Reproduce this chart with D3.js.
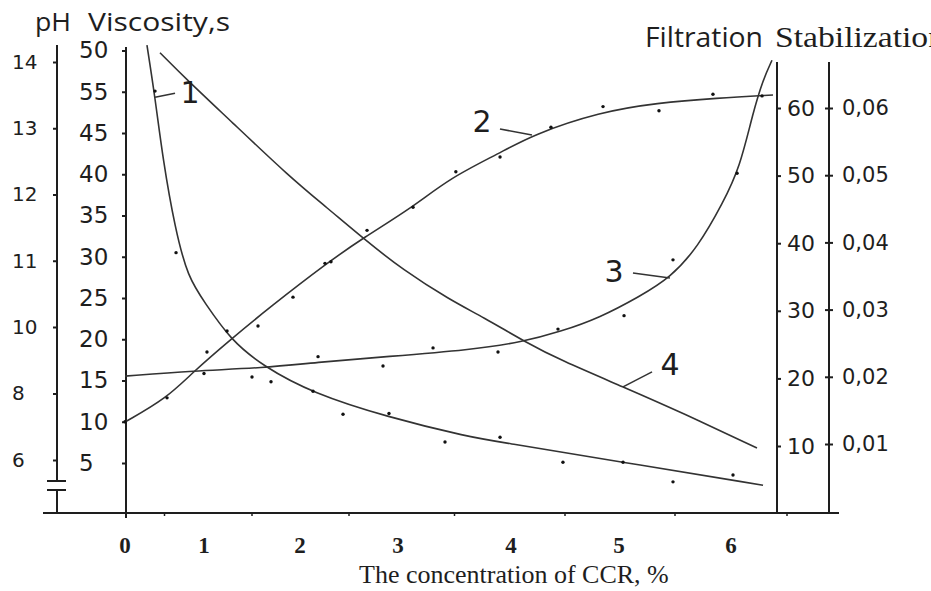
<!DOCTYPE html>
<html><head><meta charset="utf-8">
<script src="https://cdn.jsdelivr.net/npm/d3@7"></script>
<style>
body{margin:0;background:#fff;overflow:hidden}
svg{display:block}
</style>
</head><body>
<svg id="c" width="931" height="591"></svg>
<script>
// ---------------- data ----------------
const xTickValues = [0,1,2,3,4,5,6];
const xTickLabels = ["0","1","2","3","4","5","6"];
const xMinorTicks = [0.5,1.5,2.5,3.5,4.5,5.5,6.5];
const phTickValues = [6,8,10,11,12,13,14];
const phTickLabels = ["6","8","10","11","12","13","14"];
const viscTickValues = [5,10,15,20,25,30,35,40,45,50,55];
const viscTickLabels = ["5","10","15","20","25","30","35","40","45","55","50"];
const filtTickValues = [10,20,30,40,50,60];
const filtTickLabels = ["10","20","30","40","50","60"];
const stabTickValues = [0.01,0.02,0.03,0.04,0.05,0.06];
const stabTickLabels = ["0,01","0,02","0,03","0,04","0,05","0,06"];
const curveLabels = ["1","2","3","4"];

// curve 1 – filtration
const curve1Line = [[0.278,69.3],[0.38,61.6],[0.481,52.3],[0.633,42.2],[0.797,34.9],[1.01,31.2],[1.271,25.8],[1.615,21.8],[2.133,17.8],[2.888,14.3],[3.637,11.3],[3.903,10.6],[5.036,7.6],[6.286,4.2]];
const curve1Points = [[0.38,62.5],[0.646,38.6],[1.5,20.2],[1.698,19.5],[2.133,18.1],[2.439,14.7],[2.908,14.8],[3.416,10.6],[3.903,11.3],[4.481,7.6],[5.036,7.6],[5.482,4.7],[6.018,5.7]];
// curve 2 – viscosity
const curve2Line = [[0,9.97],[0.532,12.88],[0.861,16.03],[1.271,19.91],[1.6875,23.9],[2.276,29.24],[2.643,32.27],[3.133,36.03],[3.46,39.55],[3.903,42.58],[4.194,44.76],[4.824,47.55],[5.339,48.64],[5.875,49.24],[6.375,49.6]];
const curve2Points = [[0,10.0],[0.532,12.9],[1.031,18.45],[1.24,21.0],[1.5625,21.6],[1.927,25.1],[2.255,29.2],[2.316,29.4],[2.684,33.2],[3.133,36.0],[3.512,40.3],[3.903,42.1],[4.37,45.7],[4.852,48.2],[5.357,47.7],[5.839,49.7],[6.277,49.5]];
// curve 3 – stabilization
const curve3Line = [[0,0.0201],[0.861,0.0209],[1.615,0.0213],[2.204,0.0222],[2.888,0.0230],[3.637,0.0240],[4.111,0.0252],[4.454,0.0267],[4.824,0.0288],[5.188,0.0320],[5.455,0.0347],[5.705,0.0393],[5.929,0.0459],[6.08,0.0512],[6.196,0.0593],[6.286,0.0642],[6.366,0.0671]];
const curve3Points = [[1.0,0.0205],[2.184,0.0230],[2.847,0.0216],[3.31,0.0243],[3.885,0.0237],[4.435,0.0271],[5.045,0.0291],[5.482,0.0374],[6.054,0.0503]];
// curve 4 – pH
const curve4Line = [[0.443,14.14],[0.785,13.73],[1.271,13.12],[1.896,12.26],[2.276,11.80],[2.643,11.34],[3.044,10.86],[3.46,10.41],[3.752,10.15],[4.148,9.52],[4.454,9.01],[5.036,8.20],[5.571,7.41],[6.232,6.36]];

// ---------------- layout ----------------
const svg = d3.select("#c");
const INK = "#1e1e1e", LINE = "#333";
const SANS = "'DejaVu Sans', sans-serif", SERIF = "'Liberation Serif', 'Times New Roman', serif";
const baseY = 513;

const x = d3.scaleLinear().domain([0,1,2,3,4,5,6,6.5]).range([125,204,300,398,511,619,731,787]);
const yPH = d3.scaleLinear().domain([6,10,14]).range([460,327,62]);
const yVisc = d3.scaleLinear().domain([5,55]).range([463,50.5]);
const yFilt = d3.scaleLinear().domain([0,60]).range([513.6,108]);
const yStab = d3.scaleLinear().domain([0,0.06]).range([511.2,108]);

const axX = {ph:57, visc:126, filt:777, stab:829};

// bottom axis
svg.append("line").attr("x1",43).attr("x2",839).attr("y1",baseY).attr("y2",baseY)
  .attr("stroke",INK).attr("stroke-width",2);
svg.append("g").selectAll("line").data(xMinorTicks).join("line")
  .attr("x1",d=>x(d)).attr("x2",d=>x(d)).attr("y1",baseY).attr("y2",baseY+3)
  .attr("stroke",INK).attr("stroke-width",1.5);
svg.append("g").selectAll("text").data(xTickValues).join("text")
  .attr("x",d=>x(d)).attr("y",553).attr("text-anchor","middle")
  .attr("font-family",SERIF).attr("font-weight","bold").attr("font-size",23).attr("fill",INK)
  .text((d,i)=>xTickLabels[i]);
svg.append("text").attr("x",359).attr("y",583).attr("font-family",SERIF).attr("font-size",26)
  .attr("fill",INK).text("The concentration of CCR, %");

// pH axis with break
svg.append("line").attr("x1",axX.ph).attr("x2",axX.ph).attr("y1",45).attr("y2",481).attr("stroke",INK).attr("stroke-width",2);
svg.append("line").attr("x1",axX.ph).attr("x2",axX.ph).attr("y1",490).attr("y2",baseY).attr("stroke",INK).attr("stroke-width",2);
[481,490].forEach(yy=>svg.append("line").attr("x1",47).attr("x2",66).attr("y1",yy).attr("y2",yy).attr("stroke",INK).attr("stroke-width",2));
const gPH = svg.append("g").attr("transform",`translate(${axX.ph},0)`)
  .call(d3.axisLeft(yPH).tickValues(phTickValues).tickSize(4).tickFormat((d,i)=>phTickLabels[i]));
gPH.select(".domain").remove();
gPH.selectAll("line").attr("stroke",INK).attr("stroke-width",2);
gPH.selectAll("text").attr("x",12-axX.ph).attr("text-anchor","start")
  .attr("font-family",SANS).attr("font-size",20).attr("fill",INK);

// viscosity axis
svg.append("line").attr("x1",axX.visc).attr("x2",axX.visc).attr("y1",47).attr("y2",518).attr("stroke",INK).attr("stroke-width",2);
const gV = svg.append("g").attr("transform",`translate(${axX.visc},0)`)
  .call(d3.axisLeft(yVisc).tickValues(viscTickValues).tickSize(4).tickFormat((d,i)=>viscTickLabels[i]));
gV.select(".domain").remove();
gV.selectAll("line").attr("stroke",INK).attr("stroke-width",2);
gV.selectAll("text").attr("x",79-axX.visc).attr("text-anchor","start")
  .attr("font-family",SANS).attr("font-size",23).attr("fill",INK);

// filtration axis
svg.append("line").attr("x1",axX.filt).attr("x2",axX.filt).attr("y1",62).attr("y2",baseY).attr("stroke",INK).attr("stroke-width",2);
const gF = svg.append("g").attr("transform",`translate(${axX.filt},0)`)
  .call(d3.axisRight(yFilt).tickValues(filtTickValues).tickSize(4).tickFormat((d,i)=>filtTickLabels[i]));
gF.select(".domain").remove();
gF.selectAll("line").attr("stroke",INK).attr("stroke-width",2);
gF.selectAll("text").attr("x",787-axX.filt).attr("text-anchor","start")
  .attr("font-family",SANS).attr("font-size",22).attr("fill",INK);

// stabilization axis
svg.append("line").attr("x1",axX.stab).attr("x2",axX.stab).attr("y1",62).attr("y2",baseY).attr("stroke",INK).attr("stroke-width",2);
const gS = svg.append("g").attr("transform",`translate(${axX.stab},0)`)
  .call(d3.axisRight(yStab).tickValues(stabTickValues).tickSize(4).tickFormat((d,i)=>stabTickLabels[i]));
gS.select(".domain").remove();
gS.selectAll("line").attr("x1",-4).attr("stroke",INK).attr("stroke-width",2);
gS.selectAll("text").attr("x",842-axX.stab).attr("text-anchor","start")
  .attr("font-family",SANS).attr("font-size",21).attr("fill",INK);

// titles
svg.append("text").attr("x",35).attr("y",31).attr("font-family","'Open Sans', sans-serif").attr("font-size",25)
  .attr("fill",INK).attr("textLength",36).attr("lengthAdjust","spacingAndGlyphs").text("pH");
svg.append("text").attr("x",88).attr("y",31).attr("font-family","'Open Sans', sans-serif").attr("font-size",25)
  .attr("fill",INK).attr("textLength",142).attr("lengthAdjust","spacingAndGlyphs").text("Viscosity,s");
svg.append("text").attr("x",645).attr("y",47).attr("font-family","'Open Sans', sans-serif").attr("font-size",27)
  .attr("fill",INK).attr("textLength",118).attr("lengthAdjust","spacingAndGlyphs").text("Filtration");
svg.append("text").attr("x",775).attr("y",47).attr("font-family",SERIF).attr("font-size",30)
  .attr("fill",INK).attr("textLength",170).attr("lengthAdjust","spacingAndGlyphs").text("Stabilization");

// curves
const series = [
  {line:curve1Line, pts:curve1Points, y:yFilt},
  {line:curve2Line, pts:curve2Points, y:yVisc},
  {line:curve3Line, pts:curve3Points, y:yStab},
  {line:curve4Line, pts:[], y:yPH}
];
series.forEach(s=>{
  const gen = d3.line().x(d=>x(d[0])).y(d=>s.y(d[1])).curve(d3.curveBasis);
  svg.append("path").attr("d",gen(s.line)).attr("fill","none").attr("stroke",LINE).attr("stroke-width",1.6);
  svg.append("g").selectAll("circle").data(s.pts).join("circle")
    .attr("cx",d=>x(d[0])).attr("cy",d=>s.y(d[1])).attr("r",1.7).attr("fill","#111");
});

// curve labels with leader lines (anchor = a point of the fitted line)
const annots = [
  {s:0, i:1, dx:20, dy:-4, tx:35, ty:6},
  {s:1, i:10, dx:-32, dy:-6, tx:-50, ty:-3},
  {s:2, i:10, dx:-37, dy:-5, tx:-56, ty:4},
  {s:3, i:11, dx:29, dy:-15, tx:47, ty:-12}
];
annots.forEach((a,k)=>{
  const s = series[a.s], p = s.line[a.i];
  const ax = x(p[0]), ay = s.y(p[1]);
  svg.append("line").attr("x1",ax).attr("y1",ay).attr("x2",ax+a.dx).attr("y2",ay+a.dy)
    .attr("stroke",LINE).attr("stroke-width",1.6);
  svg.append("text").attr("x",ax+a.tx).attr("y",ay+a.ty).attr("text-anchor","middle")
    .attr("font-family",SANS).attr("font-size",30).attr("fill",INK).text(curveLabels[k]);
});
</script>
</body></html>
